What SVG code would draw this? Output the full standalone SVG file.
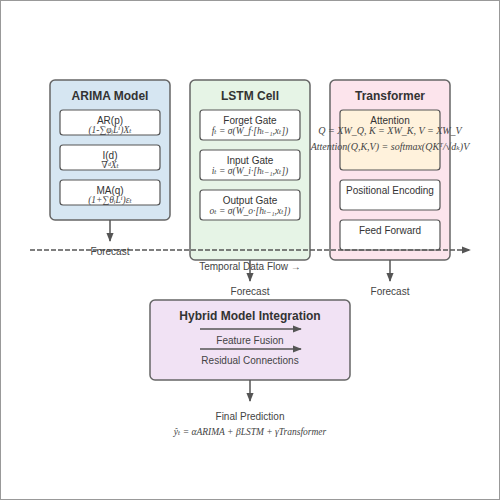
<svg xmlns="http://www.w3.org/2000/svg" width="500" height="500" viewBox="0 0 500 500">
<defs>
<marker id="ah" viewBox="0 0 10 10" refX="9" refY="5" markerWidth="6" markerHeight="6" orient="auto"><path d="M0,1 L10,5 L0,9 z" fill="#555"/></marker>
</defs>
<style>
.frame{fill:#fff;stroke:#999;stroke-width:2}
.panel{stroke:#666;stroke-width:1.5}
.sub{fill:#fff;stroke:#555;stroke-width:1.2}
.title{font-family:"Liberation Sans",Arial,sans-serif;font-size:12px;font-weight:bold;fill:#333;text-anchor:middle}
.lbl{font-family:"Liberation Sans",Arial,sans-serif;font-size:10px;fill:#333;text-anchor:middle}
.small{font-family:"Liberation Sans",Arial,sans-serif;font-size:10px;fill:#444;text-anchor:middle}
.f{font-family:"Liberation Serif","DejaVu Serif",serif;font-style:italic;font-size:9.5px;fill:#444;text-anchor:middle}
.conn{stroke:#555;stroke-width:1.5;fill:none;marker-end:url(#ah)}
</style>
<rect class="frame" x="0" y="0" width="500" height="500"/>

<g id="arima">
<rect class="panel" x="50" y="80" width="120" height="140" rx="5" fill="#d6e6f2"/>
<text class="title" x="110" y="100">ARIMA Model</text>
<rect class="sub" x="60" y="110" width="100" height="25" rx="3"/>
<text class="lbl" x="110" y="124">AR(p)</text>
<text class="f" x="110" y="133">(1-∑φᵢLⁱ)Xₜ</text>
<rect class="sub" x="60" y="145" width="100" height="25" rx="3"/>
<text class="lbl" x="110" y="159">I(d)</text>
<text class="f" x="110" y="168">∇ᵈXₜ</text>
<rect class="sub" x="60" y="180" width="100" height="25" rx="3"/>
<text class="lbl" x="110" y="194">MA(q)</text>
<text class="f" x="110" y="203">(1+∑θᵢLⁱ)εₜ</text>
</g>

<g id="lstm">
<rect class="panel" x="190" y="80" width="120" height="180" rx="5" fill="#e6f4e6"/>
<text class="title" x="250" y="100">LSTM Cell</text>
<rect class="sub" x="200" y="110" width="100" height="30" rx="3"/>
<text class="lbl" x="250" y="124">Forget Gate</text>
<text class="f" x="250" y="134">fₜ = σ(W_f·[hₜ₋₁,xₜ])</text>
<rect class="sub" x="200" y="150" width="100" height="30" rx="3"/>
<text class="lbl" x="250" y="164">Input Gate</text>
<text class="f" x="250" y="174">iₜ = σ(W_i·[hₜ₋₁,xₜ])</text>
<rect class="sub" x="200" y="190" width="100" height="30" rx="3"/>
<text class="lbl" x="250" y="204">Output Gate</text>
<text class="f" x="250" y="214">oₜ = σ(W_o·[hₜ₋₁,xₜ])</text>
</g>

<g id="transformer">
<rect class="panel" x="330" y="80" width="120" height="180" rx="5" fill="#fce4ec"/>
<text class="title" x="390" y="100">Transformer</text>
<rect x="340" y="110" width="100" height="60" rx="3" fill="#fff2dc" stroke="#555" stroke-width="1.2"/>
<text class="lbl" x="390" y="124">Attention</text>
<text class="f" x="390" y="134" style="font-size:10px">Q = XW_Q, K = XW_K, V = XW_V</text>
<text class="f" x="390" y="150" style="font-size:10px">Attention(Q,K,V) = softmax(QKᵀ/√dₖ)V</text>
<rect class="sub" x="340" y="180" width="100" height="30" rx="3"/>
<text class="lbl" x="390" y="194">Positional Encoding</text>
<rect class="sub" x="340" y="220" width="100" height="30" rx="3"/>
<text class="lbl" x="390" y="234">Feed Forward</text>
</g>

<g id="hybrid">
<rect class="panel" x="150" y="300" width="200" height="80" rx="5" fill="#f1e2f4"/>
<text class="title" x="250" y="320">Hybrid Model Integration</text>
<text class="small" x="250" y="344">Feature Fusion</text>
<text class="small" x="250" y="364">Residual Connections</text>
</g>

<g id="final">
<text class="small" x="250" y="420">Final Prediction</text>
<text class="f" x="250" y="435">ŷₜ = αARIMA + βLSTM + γTransformer</text>
</g>

<g id="connectors">
<line x1="30" y1="250" x2="470" y2="250" stroke="#555" stroke-width="1.5" stroke-dasharray="5,2" marker-end="url(#ah)"/>
<line class="conn" x1="110" y1="220" x2="110" y2="241"/>
<line class="conn" x1="250" y1="260" x2="250" y2="281"/>
<line class="conn" x1="390" y1="260" x2="390" y2="281"/>
<line class="conn" x1="200" y1="329" x2="301" y2="329"/>
<line class="conn" x1="200" y1="349" x2="301" y2="349"/>
<line class="conn" x1="250" y1="380" x2="250" y2="401"/>
<text class="small" x="110" y="255">Forecast</text>
<text class="small" x="250" y="270">Temporal Data Flow →</text>
<text class="small" x="250" y="295">Forecast</text>
<text class="small" x="390" y="295">Forecast</text>
</g>
</svg>
